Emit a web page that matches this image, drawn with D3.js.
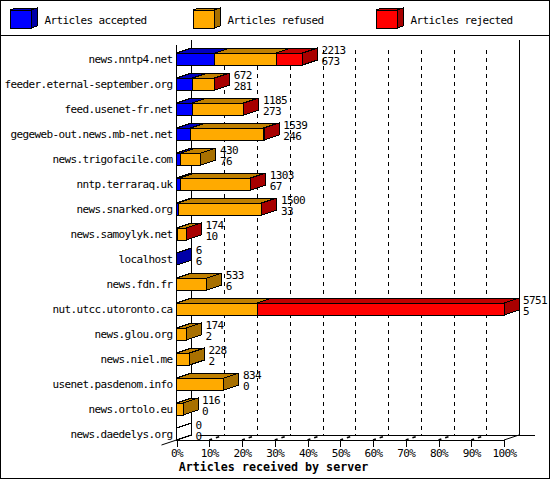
<!DOCTYPE html>
<html lang="en">
<head>
<meta charset="UTF-8">
<title>Articles received by server</title>
<script src="https://d3js.org/d3.v7.min.js"></script>
<style>
  html, body { margin: 0; padding: 0; background: #fff; }
  svg { display: block; }
  text { font-family: "DejaVu Sans Mono", monospace; font-size: 11px; letter-spacing: -0.62px; fill: #000; }
  .title { font-size: 11.67px; font-weight: bold; letter-spacing: 0; }
  .line, .shape { shape-rendering: crispEdges; }
</style>
</head>
<body>
<svg id="chart" width="550" height="480"></svg>
<script>
const servers = ["news.nntp4.net", "feeder.eternal-september.org", "feed.usenet-fr.net",
  "gegeweb-out.news.mb-net.net", "news.trigofacile.com", "nntp.terraraq.uk", "news.snarked.org",
  "news.samoylyk.net", "localhost", "news.fdn.fr", "nut.utcc.utoronto.ca", "news.glou.org",
  "news.niel.me", "usenet.pasdenom.info", "news.ortolo.eu", "news.daedelys.org"];
const accepted = [673, 281, 273, 246, 76, 67, 33, 10, 6, 6, 5, 2, 2, 0, 0, 0];
const refused = [1077, 381, 900, 1280, 354, 1230, 1460, 160, 0, 527, 1411, 172, 226, 834, 116, 0];
const rejected = [463, 10, 12, 13, 0, 6, 7, 4, 0, 0, 4335, 0, 0, 0, 0, 0];
const seriesNames = ["Articles accepted", "Articles refused", "Articles rejected"];
const percentTicks = [0, 10, 20, 30, 40, 50, 60, 70, 80, 90, 100];

const faceColors = ["#0000ff", "#ffaa00", "#ff0000"];
const topColors = ["#0000c0", "#c08000", "#c00000"];
const sideColors = ["#0000a8", "#a87000", "#a80000"];
const legendX = [10, 193, 376];

const depthX = 15, depthY = -5;
const floorY = 440;

const svg = d3.select("#chart");

svg.append("rect").attr("class", "shape")
  .attr("x", 0.5).attr("y", 0.5).attr("width", 549).attr("height", 478)
  .attr("fill", "#fff").attr("stroke", "#000");
svg.append("line").attr("class", "line")
  .attr("x1", 0).attr("x2", 550).attr("y1", 35.5).attr("y2", 35.5).attr("stroke", "#000");

function poly(g, pts, fill) {
  g.append("polygon")
    .attr("points", pts.map(p => p.join(",")).join(" "))
    .attr("fill", fill)
    .attr("stroke", "#000")
    .attr("class", "shape");
}

// legend
seriesNames.forEach((name, i) => {
  const g = svg.append("g");
  const x = legendX[i];
  poly(g, [[x, 10], [x + 6, 8], [x + 27, 8], [x + 21, 10]], topColors[i]);
  poly(g, [[x + 21, 10], [x + 27, 8], [x + 27, 26], [x + 21, 28]], sideColors[i]);
  poly(g, [[x, 10], [x + 21, 10], [x + 21, 28], [x, 28]], faceColors[i]);
  g.append("text").attr("x", x + 34.5).attr("y", 24).text(name);
});

// scales
const pct = d3.scaleLinear().domain([0, 100]).range([176.5, 504]);
const count = d3.scaleLinear().domain([0, 5751]).range([176.5, 504]);
const row = d3.scaleBand().domain(servers).range([40, floorY]);

// walls and dashed grid
const walls = svg.append("g").attr("stroke", "#000").attr("class", "line");
percentTicks.slice(1, -1).forEach(t => {
  walls.append("line")
    .attr("x1", Math.round(pct(t) + depthX) + 0.5).attr("x2", Math.round(pct(t) + depthX) + 0.5)
    .attr("y1", 50).attr("y2", floorY + depthY)
    .attr("stroke-dasharray", "4,4");
  svg.append("line")
    .attr("x1", pct(t)).attr("y1", floorY)
    .attr("x2", pct(t) + depthX).attr("y2", floorY + depthY)
    .attr("stroke", "#000").attr("stroke-width", 1.6)
    .attr("stroke-dasharray", "3,4,3.5,20");
});
const backX = pct(0) + depthX, backRight = pct(100) + depthX;
walls.append("line").attr("x1", backX).attr("x2", backX).attr("y1", 40).attr("y2", floorY + depthY);
walls.append("line").attr("x1", backRight).attr("x2", backRight).attr("y1", 40).attr("y2", floorY + depthY);
walls.append("line").attr("x1", 200).attr("x2", 535).attr("y1", floorY + depthY + 0.5).attr("y2", floorY + depthY + 0.5);

svg.append("line")
  .attr("x1", 161.5).attr("y1", floorY + 5).attr("x2", backX).attr("y2", floorY + depthY)
  .attr("stroke", "#000");
svg.append("line")
  .attr("x1", pct(100)).attr("y1", floorY).attr("x2", backRight).attr("y2", floorY + depthY)
  .attr("stroke", "#000");

// front axis
const axis = svg.append("g")
  .attr("transform", `translate(0,${floorY})`)
  .call(d3.axisBottom(pct).tickValues(percentTicks).tickFormat(d => d + "%").tickSize(7).tickPadding(2).tickSizeOuter(0));
axis.select(".domain").attr("class", "domain line").attr("stroke", "#000");
axis.selectAll(".tick line").attr("class", "line").attr("stroke", "#000");
axis.attr("font-family", null).attr("font-size", null);

svg.append("line").attr("class", "line")
  .attr("x1", pct(0)).attr("x2", pct(0)).attr("y1", 45).attr("y2", floorY).attr("stroke", "#000");

// bars
const table = servers.map((s, i) => ({ server: s, a: accepted[i], r: refused[i], j: rejected[i] }));
const stacked = d3.stack().keys(["a", "r", "j"])(table);

table.forEach((d, i) => {
  const g = svg.append("g");
  const bottom = row(d.server) + row.bandwidth();
  const top = bottom - 12;
  const total = d.a + d.r + d.j;
  const shown = stacked.map((s, k) => ({ k, x0: count(s[i][0]), x1: count(s[i][1]), v: s[i][1] - s[i][0] }))
    .filter(s => s.v > 0);

  shown.forEach(s => {
    poly(g, [[s.x0, top], [s.x0 + depthX, top + depthY], [s.x1 + depthX, top + depthY], [s.x1, top]], topColors[s.k]);
  });
  const last = shown[shown.length - 1];
  const end = count(total);
  poly(g, [[end, top], [end + depthX, top + depthY], [end + depthX, bottom + depthY], [end, bottom]],
    last ? sideColors[last.k] : "none");
  shown.forEach(s => {
    poly(g, [[s.x0, top], [s.x1, top], [s.x1, bottom], [s.x0, bottom]], faceColors[s.k]);
  });

  svg.append("text").attr("x", 172.5).attr("y", bottom - 2).attr("text-anchor", "end").text(d.server);
  svg.append("text").attr("x", end + depthX + 4).attr("y", top + 1).text(total);
  svg.append("text").attr("x", end + depthX + 4).attr("y", top + 12).text(d.a);
});

svg.append("text").attr("class", "title").attr("x", 273.5).attr("y", 471)
  .attr("text-anchor", "middle").text("Articles received by server");
</script>
</body>
</html>
